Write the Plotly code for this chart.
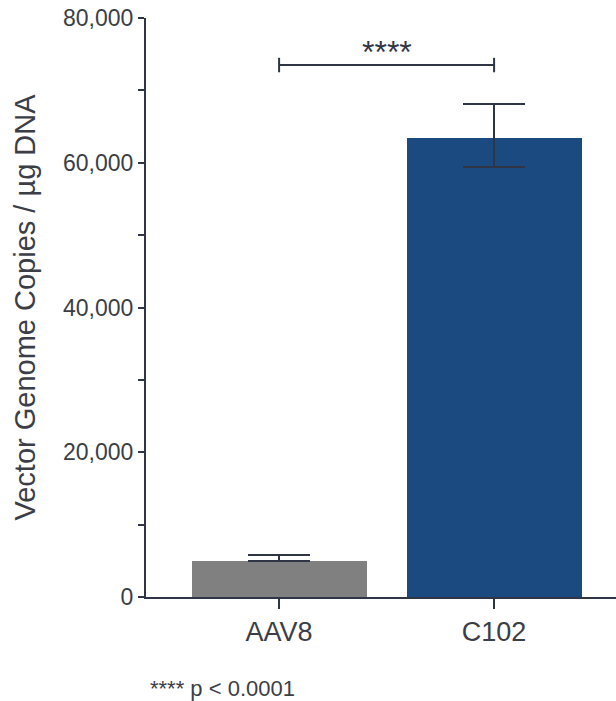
import plotly.graph_objects as go

categories = ["AAV8", "C102"]
means = [4970, 63400]
err_plus = [830, 4700]
err_minus = [0, 4000]
bar_colors = ["#808080", "#1b4a80"]
y_ticks = [0, 20000, 40000, 60000, 80000]
y_tick_labels = ["0", "20,000", "40,000", "60,000", "80,000"]
sig_level = 73500
sig_tick = 1000
sig_label = "****"
footnote = "**** p < 0.0001"

axis_col = "#2f3545"
text_col = "#3b3e46"
font_fam = "Liberation Sans, Arial, sans-serif"

fig = go.Figure()
fig.add_trace(go.Bar(
    x=categories, y=means, width=0.814,
    marker=dict(color=bar_colors, line=dict(width=0)),
    error_y=dict(type="data", symmetric=False, array=err_plus, arrayminus=err_minus,
                 color=axis_col, thickness=2, width=31),
    showlegend=False, hoverinfo="skip",
))
fig.add_trace(go.Scatter(
    x=[categories[0], categories[0], None,
       categories[0], categories[1], None,
       categories[1], categories[1]],
    y=[sig_level - sig_tick, sig_level + sig_tick, None,
       sig_level, sig_level, None,
       sig_level - sig_tick, sig_level + sig_tick],
    mode="lines", line=dict(color=axis_col, width=2), showlegend=False, hoverinfo="skip",
    connectgaps=False,
))
fig.add_annotation(x=0.5, y=sig_level, xref="x", yref="y", text=sig_label, showarrow=False,
                   yanchor="bottom", yshift=-7, font=dict(size=32, color=axis_col, family=font_fam))
fig.add_annotation(x=(148 - 146) / 470, y=-(688 - 597) / 579, xref="paper", yref="paper",
                   text=footnote, showarrow=False, xanchor="left", yanchor="middle",
                   font=dict(size=22, color=text_col, family=font_fam))

fig.update_layout(
    width=616, height=701,
    margin=dict(l=146, r=0, t=18, b=104),
    plot_bgcolor="white", paper_bgcolor="white",
    font=dict(family=font_fam, color=text_col),
    bargap=0,
)
fig.update_xaxes(
    range=[-0.619, 1.567], showline=True, linecolor=axis_col, linewidth=2,
    ticks="outside", ticklen=10, tickwidth=2, tickcolor=axis_col,
    tickfont=dict(size=27, color=text_col), showgrid=False, zeroline=False,
)
fig.update_yaxes(
    range=[0, 80000], tickvals=y_ticks, ticktext=y_tick_labels,
    showline=True, linecolor=axis_col, linewidth=2,
    ticks="outside", ticklen=6, tickwidth=2, tickcolor=axis_col,
    minor=dict(dtick=10000, ticks="outside", ticklen=6, tickwidth=2, tickcolor=axis_col),
    tickfont=dict(size=23, color=text_col), showgrid=False, zeroline=False,
    title=dict(text="Vector Genome Copies / µg DNA", font=dict(size=29, color=text_col), standoff=19),
)
fig.write_html("out.html", config={"displayModeBar": False},
               post_script="document.body.style.margin='0';")
